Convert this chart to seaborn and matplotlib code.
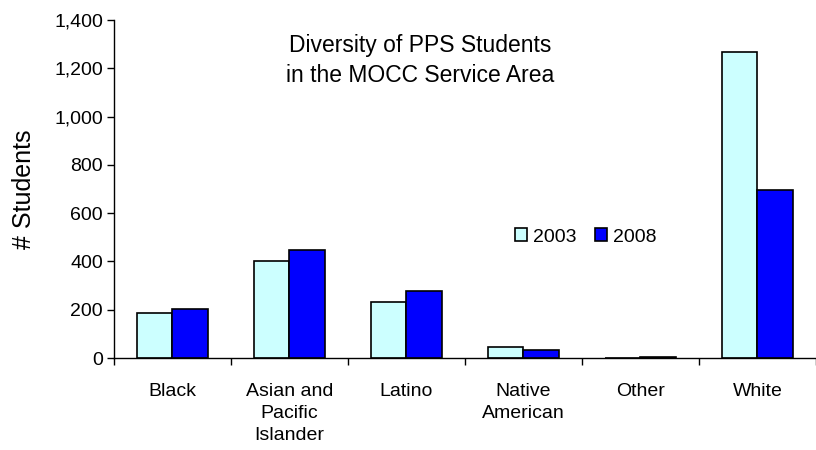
import numpy as np
import pandas as pd
import seaborn as sns
import matplotlib.pyplot as plt
from matplotlib.ticker import FuncFormatter, FixedLocator

# Data.
categories = ['Black', 'Asian and\nPacific\nIslander', 'Latino', 'Native\nAmerican', 'Other', 'White']
students_2003 = [185, 400, 232, 45, 0, 1267]
students_2008 = [204, 447, 277, 33, 4, 696]
years = ['2003', '2008']

df = pd.DataFrame({
    'Category': categories * 2,
    'Year': [years[0]] * len(categories) + [years[1]] * len(categories),
    'Students': students_2003 + students_2008,
})

sns.set_style('white')
plt.rcParams['font.family'] = ['Liberation Sans', 'DejaVu Sans']
# seaborn greys the text; the original is plain black.
plt.rcParams['text.color'] = 'black'
plt.rcParams['axes.labelcolor'] = 'black'
plt.rcParams['xtick.color'] = 'black'
plt.rcParams['ytick.color'] = 'black'

fig = plt.figure(figsize=(8.16, 4.5), dpi=100)
ax = fig.add_axes([0.1397, 0.2044, 0.8603, 0.7512])

# saturation=1 so the colours are not washed out.
sns.barplot(data=df, x='Category', y='Students', hue='Year',
            palette=['#CCFFFF', '#0000FF'], saturation=1, width=0.6, gap=0,
            edgecolor='black', linewidth=1.2, ax=ax)

ax.set_xlim(-0.5, len(categories) - 0.5)
ax.set_ylim(0, 1400)
ax.set_yticks(range(0, 1401, 200))
ax.yaxis.set_major_formatter(FuncFormatter(lambda v, p: '{:,}'.format(int(v))))

# Excel-style tick marks between categories.
ax.xaxis.set_minor_locator(FixedLocator(np.arange(-0.5, len(categories), 1.0)))
ax.tick_params(axis='x', which='major', length=0, pad=18, labelsize=14)
ax.tick_params(axis='x', which='minor', length=5, width=1, direction='out', bottom=True)
ax.tick_params(axis='y', length=5, width=1, pad=3, direction='out', left=True, labelsize=14)
for lbl in ax.get_xticklabels():
    lbl.set_linespacing(1.4)

ax.set_xlabel('')
ax.set_ylabel('# Students', fontsize=18, labelpad=13)

for s in ['top', 'right']:
    ax.spines[s].set_visible(False)
for s in ['left', 'bottom']:
    ax.spines[s].set_color('black')
    ax.spines[s].set_linewidth(1)

ax.text(0.436, 0.88, 'Diversity of PPS Students\nin the MOCC Service Area',
        transform=ax.transAxes, ha='center', va='center', fontsize=16.5,
        linespacing=1.35)

ax.legend(loc='center', bbox_to_anchor=(0.672, 0.358), ncol=2, frameon=False,
          handlelength=0.6, handleheight=0.6, handletextpad=0.3,
          columnspacing=1.0, fontsize=14)

fig.savefig('out.png', dpi=100)
